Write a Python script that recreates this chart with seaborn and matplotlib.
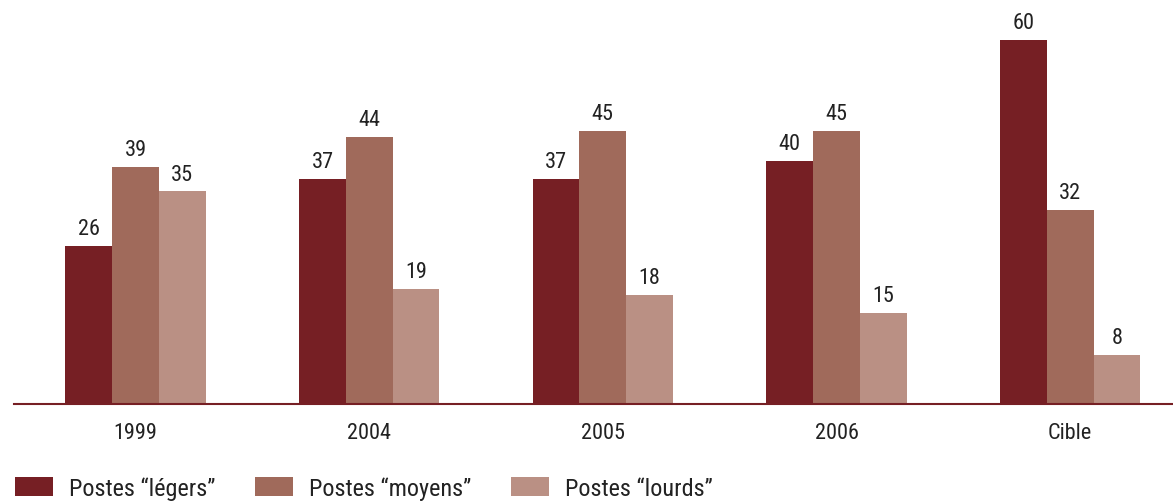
import matplotlib
matplotlib.use("Agg")
import matplotlib.pyplot as plt
import seaborn as sns
import pandas as pd
from matplotlib.patches import Patch

years = ["1999", "2004", "2005", "2006", "Cible"]
series_names = ["Postes \u201cl\u00e9gers\u201d", "Postes \u201cmoyens\u201d", "Postes \u201clourds\u201d"]
legers = [26, 37, 37, 40, 60]
moyens = [39, 44, 45, 45, 32]
lourds = [35, 19, 18, 15, 8]
colors = ["#761F24", "#A06A5B", "#BA9084"]

df = pd.DataFrame({
    "annee": years * 3,
    "serie": [series_names[0]] * 5 + [series_names[1]] * 5 + [series_names[2]] * 5,
    "valeur": legers + moyens + lourds,
})

sns.set_theme(style="white")
plt.rcParams["font.family"] = ["Roboto Condensed", "DejaVu Sans"]

fig = plt.figure(figsize=(11.73, 5.02), dpi=100)
ax = fig.add_axes([14 / 1173, 97 / 502, 1 - 14 / 1173, 405 / 502])

sns.barplot(data=df, x="annee", y="valeur", hue="serie", palette=colors,
            width=0.6, saturation=1, linewidth=0, ax=ax, legend=False)

for container in ax.containers:
    ax.bar_label(container, padding=5, fontsize=16, color="#222222")

ax.set_xlim(-0.52, 4.44)
ax.set_ylim(0, 66.7)
ax.set_xlabel("")
ax.set_ylabel("")
ax.set_yticks([])
ax.tick_params(axis="x", length=0, labelsize=16, pad=13, colors="#222222")
for side in ["top", "right", "left"]:
    ax.spines[side].set_visible(False)
ax.spines["bottom"].set_color("#761F24")
ax.spines["bottom"].set_linewidth(1.5)

handles = [Patch(facecolor=c, edgecolor="none") for c in colors]
fig.legend(handles, series_names, loc="lower left", bbox_to_anchor=(-7 / 1173, -0.042),
           ncol=3, frameon=False, fontsize=17.5, handlelength=1.55, handleheight=0.85,
           handletextpad=0.66, columnspacing=1.65, labelcolor="#222222")

fig.savefig("out.png", dpi=100)
